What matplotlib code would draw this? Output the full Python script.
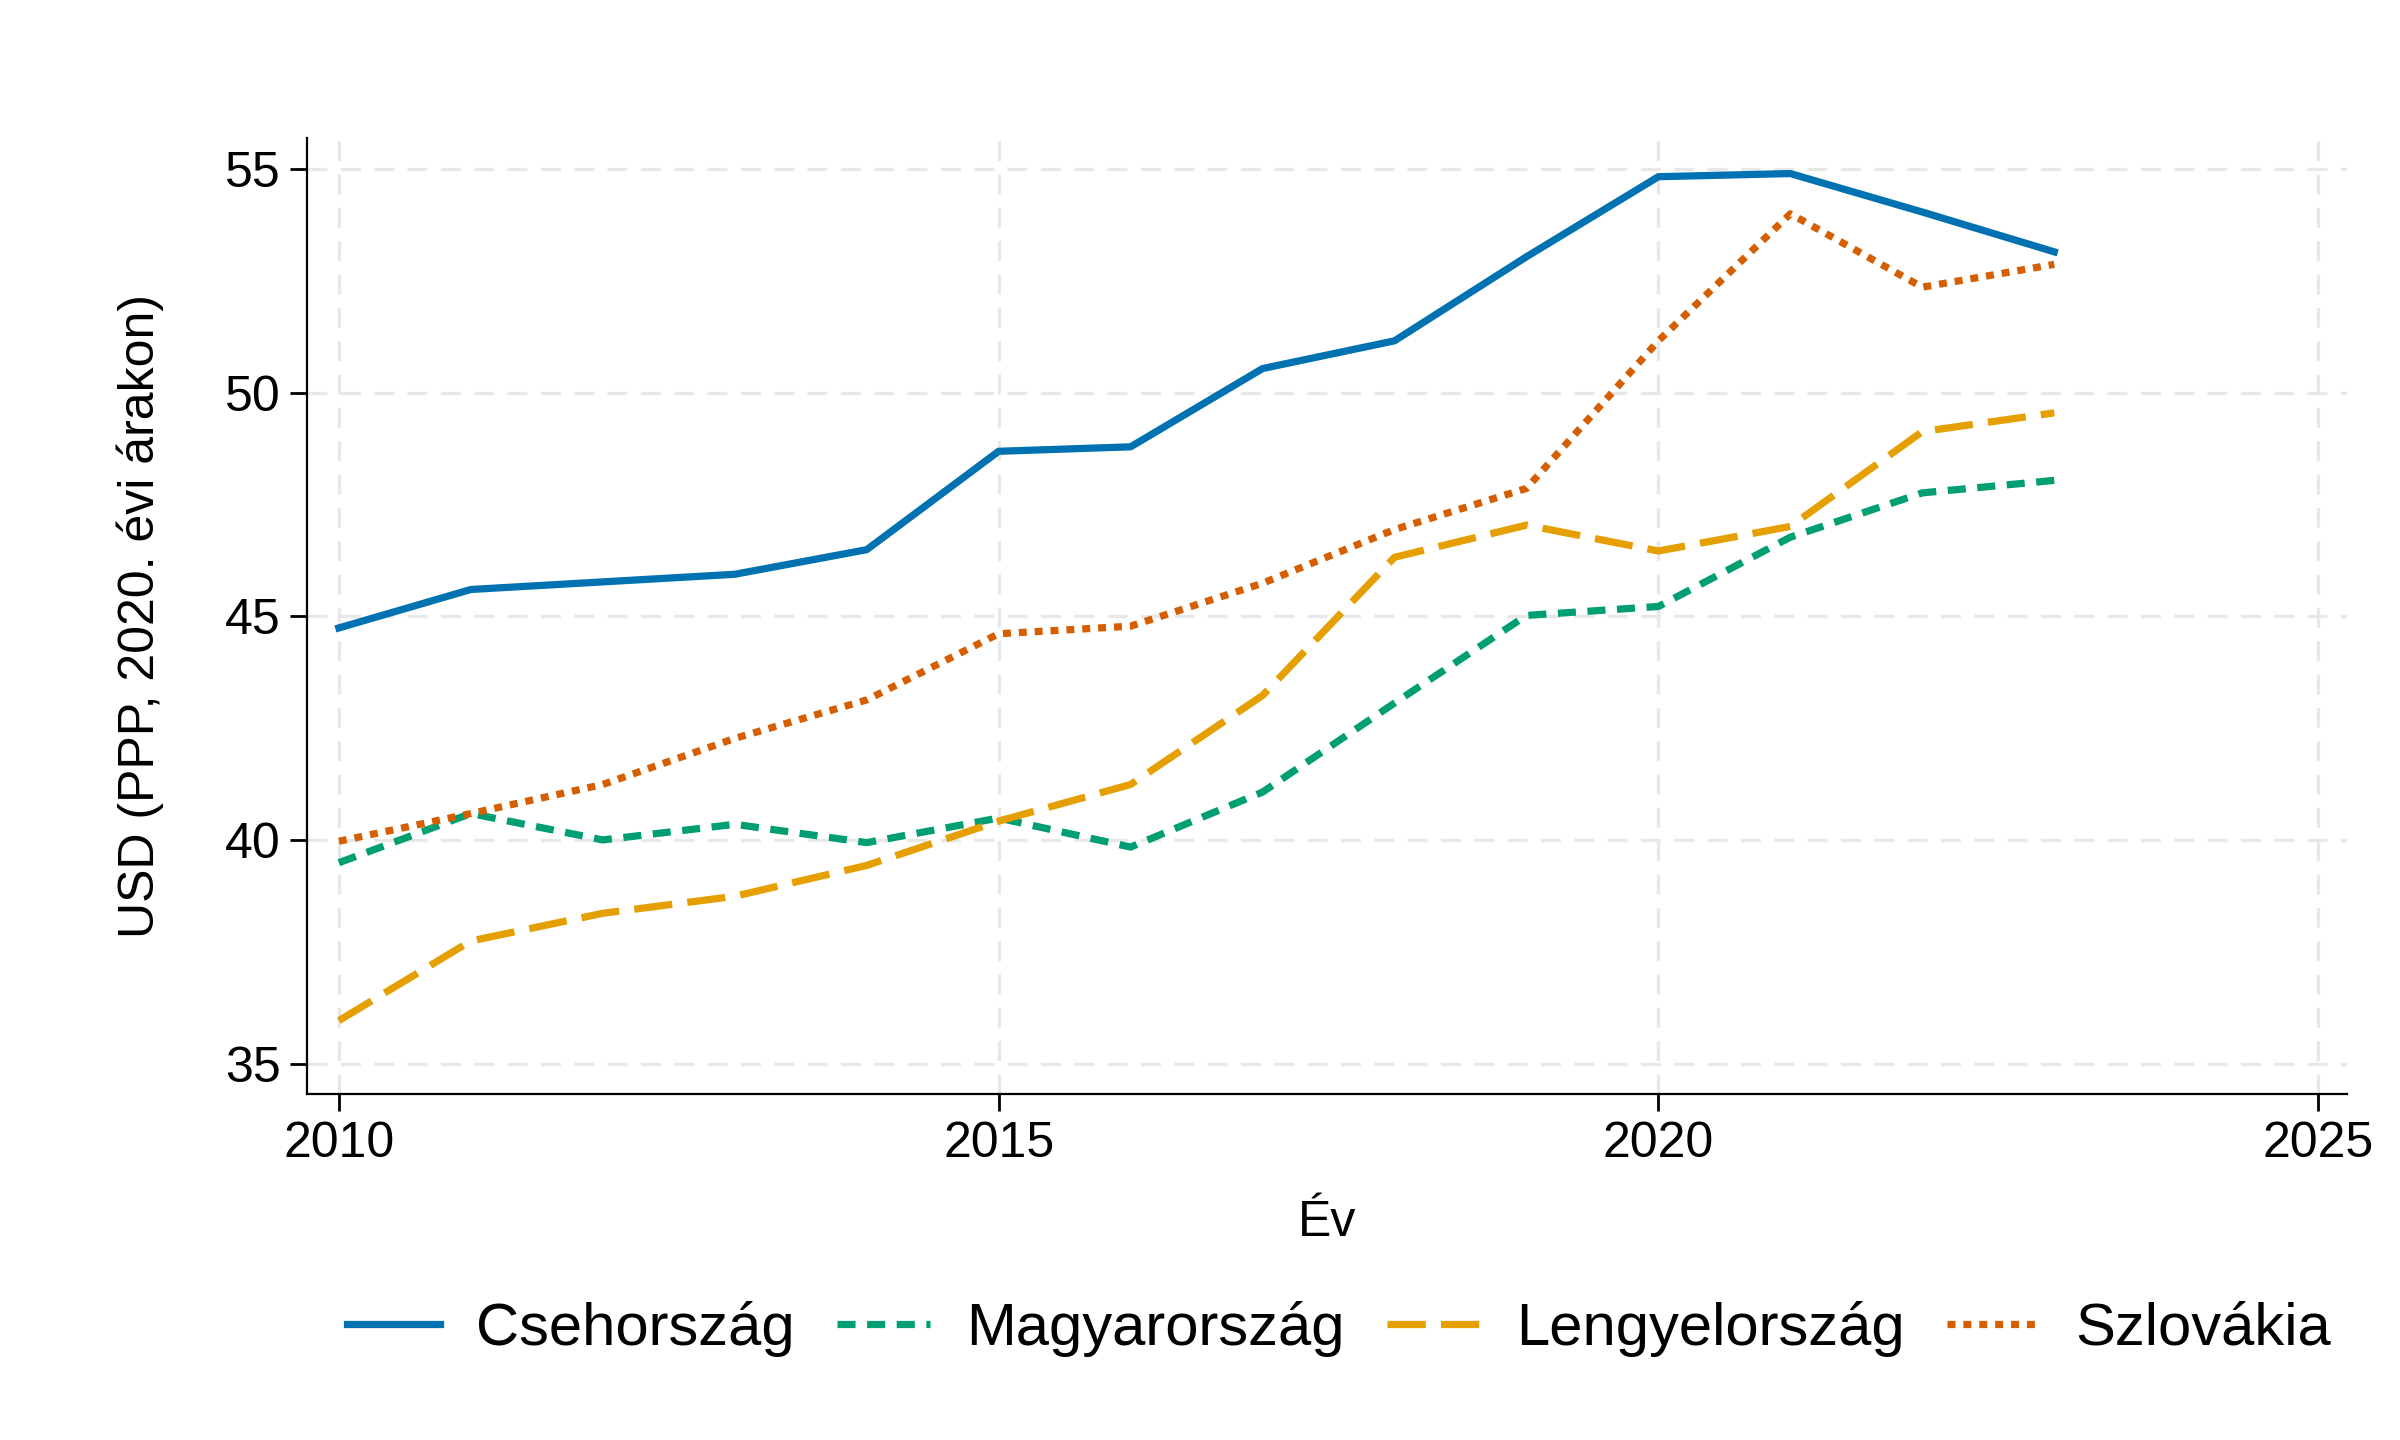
import matplotlib.pyplot as plt

plt.rcParams['font.family'] = ['Liberation Sans', 'DejaVu Sans']

# Values
years = list(range(2010, 2024))
cze = [44.74, 45.60, 45.77, 45.94, 46.49, 48.69, 48.79, 50.54, 51.16, 53.04, 54.83, 54.90, 54.04, 53.15]
hun = [39.49, 40.59, 40.00, 40.35, 39.94, 40.49, 39.84, 41.07, 43.06, 45.02, 45.22, 46.77, 47.76, 48.04]
pol = [35.96, 37.74, 38.36, 38.74, 39.43, 40.42, 41.24, 43.23, 46.32, 47.04, 46.46, 47.01, 49.13, 49.55]
svk = [39.97, 40.59, 41.24, 42.27, 43.13, 44.61, 44.78, 45.74, 46.94, 47.86, 51.16, 54.00, 52.36, 52.87]

labels = ['Csehország', 'Magyarország', 'Lengyelország', 'Szlovákia']
colors = ['#0072B2', '#009E73', '#E69F00', '#D55E00']
styles = ['-', (0, (2.5, 1.6)), (0, (5.3, 2.1)), (0, (1.1, 1.1))]
xticks = [2010, 2015, 2020, 2025]
yticks = [35, 40, 45, 50, 55]

fig = plt.figure(figsize=(12, 7.2), dpi=200)
ax = fig.add_axes([0.128, 0.24, 0.85, 0.664])

for vals, lab, col, ls in zip([cze, hun, pol, svk], labels, colors, styles):
    ax.plot(years, vals, color=col, linestyle=ls, linewidth=2.6, label=lab)

ax.set_xlim(2009.76, 2025.22)
ax.set_ylim(34.31, 55.69)
ax.set_xticks(xticks)
ax.set_yticks(yticks)
ax.tick_params(labelsize=18, length=6, width=1, direction='out')
ax.grid(True, color='#e8e8e8', linestyle=(0, (6, 4)), linewidth=1.2)
ax.set_axisbelow(True)
for s in ['top', 'right']:
    ax.spines[s].set_visible(False)
ax.set_ylabel('USD (PPP, 2020. évi árakon)', fontsize=18, labelpad=22)
ax.set_xlabel('Év', fontsize=18, labelpad=12)

ax.legend(loc='center', bbox_to_anchor=(0.506, -0.245), ncol=4, frameon=False,
          fontsize=21.5, handlelength=1.55, handletextpad=0.6, columnspacing=0.72)

fig.savefig('out.png')
